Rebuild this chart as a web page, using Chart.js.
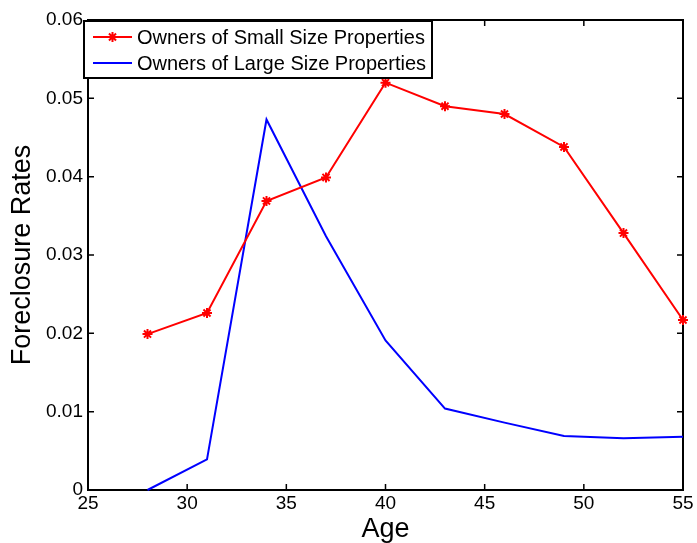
<!DOCTYPE html>
<html>
<head>
<meta charset="utf-8">
<script src="https://cdn.jsdelivr.net/npm/chart.js@4/dist/chart.umd.min.js"></script>
<style>
  html, body { margin: 0; padding: 0; background: #fff; }
  #wrap { width: 697px; height: 543px; }
</style>
</head>
<body>
<div id="wrap"><canvas id="c" width="697" height="543"></canvas></div>
<script>
// Foreclosure rates by borrower age
const ages = [28, 31, 34, 37, 40, 43, 46, 49, 52, 55];
const smallOwners = [0.0199, 0.0226, 0.0369, 0.0399, 0.0520, 0.0490, 0.0480, 0.0438, 0.0328, 0.0217];
const largeOwners = [0.0000, 0.0039, 0.0473, 0.0324, 0.0191, 0.0104, 0.0086, 0.0069, 0.0066, 0.0068];
const seriesLabels = ['Owners of Small Size Properties', 'Owners of Large Size Properties'];
const xTicks = [25, 30, 35, 40, 45, 50, 55];
const yTicks = [0, 0.01, 0.02, 0.03, 0.04, 0.05, 0.06];
const yTickLabels = ['0', '0.01', '0.02', '0.03', '0.04', '0.05', '0.06'];

const FONT = "'Liberation Sans', Arial, Helvetica, sans-serif";
Chart.defaults.font.family = FONT;
Chart.defaults.color = '#000';

// Boxed axes with inward tick marks on all four sides
const framePlugin = {
  id: 'frame',
  beforeDatasetsDraw(chart) {
    const { ctx, chartArea: a, scales: { x, y } } = chart;
    ctx.save();
    ctx.strokeStyle = '#000';
    ctx.lineWidth = 1.5;
    const L = 6;
    ctx.beginPath();
    xTicks.forEach(v => {
      const px = x.getPixelForValue(v);
      ctx.moveTo(px, a.bottom); ctx.lineTo(px, a.bottom - L);
      ctx.moveTo(px, a.top); ctx.lineTo(px, a.top + L);
    });
    yTicks.forEach(v => {
      const py = y.getPixelForValue(v);
      ctx.moveTo(a.left, py); ctx.lineTo(a.left + L, py);
      ctx.moveTo(a.right, py); ctx.lineTo(a.right - L, py);
    });
    ctx.stroke();
    ctx.lineWidth = 2;
    ctx.strokeRect(a.left, a.top, a.right - a.left, a.bottom - a.top);
    ctx.restore();
  }
};

// Boxed legend in the upper-left corner of the plot
const boxLegend = {
  id: 'boxLegend',
  afterDraw(chart) {
    const { ctx, chartArea: a } = chart;
    const x0 = a.left - 4, y0 = a.top + 1, w = 348, h = 57;
    ctx.save();
    ctx.fillStyle = '#fff';
    ctx.fillRect(x0, y0, w, h);
    ctx.strokeStyle = '#000';
    ctx.lineWidth = 2;
    ctx.strokeRect(x0, y0, w, h);
    ctx.font = '20px ' + FONT;
    ctx.textBaseline = 'middle';
    ctx.textAlign = 'left';
    chart.data.datasets.forEach((ds, i) => {
      const cy = y0 + 16 + i * 26;
      ctx.strokeStyle = ds.borderColor;
      ctx.lineWidth = ds.borderWidth;
      ctx.beginPath();
      ctx.moveTo(x0 + 9, cy);
      ctx.lineTo(x0 + 48, cy);
      ctx.stroke();
      if (ds.pointRadius > 0) {
        Chart.helpers.drawPoint(ctx, {
          pointStyle: ds.pointStyle,
          radius: ds.pointRadius,
          borderWidth: ds.pointBorderWidth,
          rotation: 0
        }, x0 + 28.5, cy);
      }
      ctx.fillStyle = '#000';
      ctx.fillText(ds.label, x0 + 53, cy + 1);
    });
    ctx.restore();
  }
};

new Chart(document.getElementById('c'), {
  type: 'line',
  data: {
    datasets: [
      {
        label: seriesLabels[0],
        data: ages.map((a, i) => ({ x: a, y: smallOwners[i] })),
        borderColor: '#ff0000',
        backgroundColor: '#ff0000',
        borderWidth: 2,
        pointStyle: 'star',
        pointRadius: 5,
        pointBorderWidth: 2,
        pointBorderColor: '#ff0000',
        pointHoverRadius: 5,
        tension: 0,
        clip: false
      },
      {
        label: seriesLabels[1],
        data: ages.map((a, i) => ({ x: a, y: largeOwners[i] })),
        borderColor: '#0000ff',
        backgroundColor: '#0000ff',
        borderWidth: 2,
        pointRadius: 0,
        pointHoverRadius: 0,
        tension: 0,
        clip: false
      }
    ]
  },
  options: {
    responsive: false,
    animation: false,
    devicePixelRatio: 1,
    events: [],
    layout: { padding: { top: 20, right: 14, left: 0, bottom: 0 } },
    plugins: { legend: { display: false }, tooltip: { enabled: false } },
    scales: {
      x: {
        type: 'linear',
        min: 25, max: 55,
        grid: { display: false, drawTicks: false },
        border: { display: false },
        afterBuildTicks(scale) { scale.ticks = xTicks.map(v => ({ value: v })); },
        ticks: {
          font: { size: 19 },
          padding: 2,
          maxRotation: 0,
          autoSkip: false,
          callback: v => String(v)
        },
        title: {
          display: true,
          text: 'Age',
          font: { size: 27, lineHeight: 1 },
          padding: { top: 0, bottom: 0 }
        },
        afterFit(scale) {
          scale.height = 53;
          scale.paddingLeft = 0;
          scale.paddingRight = 0;
        }
      },
      y: {
        type: 'linear',
        min: 0, max: 0.06,
        grid: { display: false, drawTicks: false },
        border: { display: false },
        afterBuildTicks(scale) { scale.ticks = yTicks.map(v => ({ value: v })); },
        ticks: {
          font: { size: 19 },
          padding: 5,
          autoSkip: false,
          callback: (v) => yTickLabels[yTicks.findIndex(t => Math.abs(t - v) < 1e-9)]
        },
        title: {
          display: true,
          text: 'Foreclosure Rates',
          font: { size: 27, lineHeight: 1 },
          padding: { top: 9, bottom: 0 }
        },
        afterFit(scale) {
          scale.width = 88;
          scale.paddingTop = 0;
          scale.paddingBottom = 0;
        }
      }
    }
  },
  plugins: [framePlugin, boxLegend]
});
</script>
</body>
</html>
